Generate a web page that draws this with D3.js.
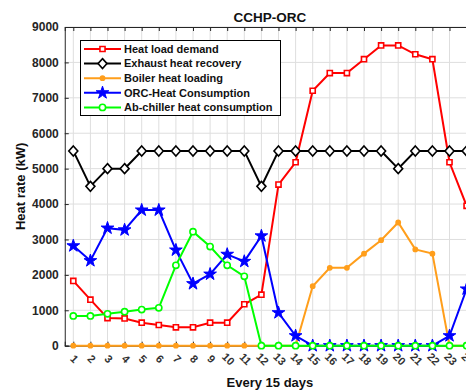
<!DOCTYPE html>
<html>
<head>
<meta charset="utf-8">
<script src="https://cdn.jsdelivr.net/npm/d3@7"></script>
<style>
  body { margin: 0; background: #fff; }
  svg { display: block; font-family: "Liberation Sans", Arial, sans-serif; font-weight: bold; }
</style>
</head>
<body>
<div class="container"></div>
<script>
// x categories (every 15 days)
var categories = ['1','2','3','4','5','6','7','8','9','10','11','12',
  '13','14','15','16','17','18','19','20','21','22','23','24'];

var yTicks = [0, 1000, 2000, 3000, 4000, 5000, 6000, 7000, 8000, 9000];

var heatLoad = [1830, 1300, 780, 770, 650, 585, 520, 520, 650, 650, 1170, 1440,
  4550, 5180, 7200, 7700, 7700, 8090, 8480, 8480, 8230, 8090, 5180, 3950];
var exhaust = [5500, 4500, 5000, 5000, 5500, 5500, 5500, 5500, 5500, 5500, 5500, 4500,
  5500, 5500, 5500, 5500, 5500, 5500, 5500, 5000, 5500, 5500, 5500, 5500];
var boiler = [0, 0, 0, 0, 0, 0, 0, 0, 0, 0, 0, 0,
  0, 0, 1680, 2200, 2200, 2600, 2980, 3480, 2720, 2600, 0, 0];
var orc = [2820, 2400, 3320, 3270, 3830, 3830, 2700, 1750, 2020, 2580, 2380, 3100,
  930, 280, 0, 0, 0, 0, 0, 0, 0, 0, 280, 1600];
var chiller = [840, 840, 900, 960, 1020, 1070, 2270, 3220, 2800, 2270, 1960, 0,
  0, 0, 0, 0, 0, 0, 0, 0, 0, 0, 0, 0];

var width = 466, height = 390;
var plotLeft = 64.75, step = 17.1, plotTop = 27, plotBottom = 345.7;
var plotRight = plotLeft + step * categories.length;

var series = [
  { name: 'Heat load demand', values: heatLoad, color: '#ff0000', marker: 'square' },
  { name: 'Exhaust heat recovery', values: exhaust, color: '#000000', marker: 'diamond' },
  { name: 'Boiler heat loading', values: boiler, color: '#ff9e1b', marker: 'dot' },
  { name: 'ORC-Heat Consumption', values: orc, color: '#0000ff', marker: 'star' },
  { name: 'Ab-chiller heat consumption', values: chiller, color: '#00ff00', marker: 'circle' }
];

var x = d3.scaleLinear().domain([0.5, categories.length + 0.5]).range([plotLeft, plotRight]);
var y = d3.scaleLinear().domain([0, 9000]).range([plotBottom, plotTop]);

var svg = d3.select('.container').append('svg')
  .attr('width', width)
  .attr('height', height);

// grid
var grid = svg.append('g').attr('class', 'grid');
grid.selectAll('.vgrid')
  .data(categories).enter()
  .append('line')
  .attr('x1', function(d, i) { return x(i + 1); })
  .attr('x2', function(d, i) { return x(i + 1); })
  .attr('y1', plotTop).attr('y2', plotBottom)
  .attr('stroke', '#dedede').attr('stroke-width', 1);
grid.selectAll('.hgrid')
  .data(yTicks).enter()
  .append('line')
  .attr('x1', plotLeft).attr('x2', plotRight)
  .attr('y1', function(d) { return y(d); })
  .attr('y2', function(d) { return y(d); })
  .attr('stroke', '#dedede').attr('stroke-width', 1);

// axes (box, inward ticks)
var axisColor = '#262626';
var yAxis = svg.append('g')
  .attr('transform', 'translate(' + plotLeft + ',0)')
  .call(d3.axisLeft(y).tickValues(yTicks).tickSize(-4).tickPadding(6).tickFormat(d3.format('d')));
yAxis.select('.domain').attr('stroke', axisColor);
yAxis.selectAll('line').attr('stroke', axisColor);
yAxis.selectAll('text')
  .attr('fill', axisColor)
  .style('font-size', '12px')
  .style('font-family', '"Liberation Sans", Arial, sans-serif')
  .style('font-weight', 'bold');

var xTop = svg.append('g')
  .attr('transform', 'translate(0,' + plotTop + ')')
  .call(d3.axisTop(x).tickValues(d3.range(1, categories.length + 1)).tickSize(-4).tickFormat(''));
xTop.select('.domain').attr('stroke', axisColor);
xTop.selectAll('line').attr('stroke', axisColor);

var xAxis = svg.append('g')
  .attr('transform', 'translate(0,' + plotBottom + ')')
  .call(d3.axisBottom(x).tickValues(d3.range(1, categories.length + 1)).tickSize(-4)
    .tickFormat(function(d) { return categories[d - 1]; }));
xAxis.select('.domain').attr('stroke', axisColor);
xAxis.selectAll('line').attr('stroke', axisColor);
xAxis.selectAll('text')
  .attr('fill', '#333')
  .attr('y', 0).attr('dy', null)
  .attr('text-anchor', 'middle')
  .attr('dominant-baseline', 'middle')
  .attr('transform', 'translate(0,14) rotate(45)')
  .style('font-size', '11px')
  .style('font-family', '"Liberation Sans", Arial, sans-serif')
  .style('font-weight', 'bold');

// markers
function markerPath(type) {
  if (type == 'square') return d3.symbol().type(d3.symbolSquare).size(26)();
  if (type == 'diamond') return 'M0,-5L4.5,0L0,5L-4.5,0Z';
  if (type == 'star') return d3.symbol().type(d3.symbolStar).size(50)();
  if (type == 'circle') return d3.symbol().type(d3.symbolCircle).size(30)();
  return d3.symbol().type(d3.symbolCircle).size(14)();
}

function drawMarker(g, s, cx, cy) {
  var filled = s.marker == 'star' || s.marker == 'dot';
  g.append('path')
    .attr('d', markerPath(s.marker))
    .attr('transform', 'translate(' + cx + ',' + cy + ')')
    .attr('fill', filled ? s.color : '#fff')
    .attr('stroke', s.color)
    .attr('stroke-width', s.marker == 'star' ? 1 : 1.6);
}

var line = d3.line()
  .x(function(d, i) { return x(i + 1); })
  .y(function(d) { return y(d); });

series.forEach(function(s) {
  var g = svg.append('g').attr('class', 'series');
  g.append('path')
    .datum(s.values)
    .attr('d', line)
    .attr('fill', 'none')
    .attr('stroke', s.color)
    .attr('stroke-width', 2);
  s.values.forEach(function(v, i) {
    drawMarker(g, s, x(i + 1), y(v));
  });
});

// legend
var legend = svg.append('g').attr('class', 'legend');
legend.append('rect')
  .attr('x', 80.5).attr('y', 40.5)
  .attr('width', 200).attr('height', 75)
  .attr('fill', '#fff').attr('stroke', '#000').attr('stroke-width', 1);
series.forEach(function(s, i) {
  var ly = 49 + i * 14.6;
  legend.append('line')
    .attr('x1', 84).attr('x2', 121)
    .attr('y1', ly).attr('y2', ly)
    .attr('stroke', s.color).attr('stroke-width', 2);
  drawMarker(legend, s, 102.5, ly);
  legend.append('text')
    .attr('x', 124).attr('y', ly)
    .attr('dy', '0.35em')
    .attr('fill', '#111')
    .style('font-size', '11px')
    .text(s.name);
});

// title and labels
svg.append('text')
  .attr('x', (plotLeft + plotRight) / 2).attr('y', 22)
  .attr('text-anchor', 'middle')
  .attr('fill', '#111')
  .style('font-size', '13.5px')
  .text('CCHP-ORC');

svg.append('text')
  .attr('x', (plotLeft + plotRight) / 2).attr('y', 387)
  .attr('text-anchor', 'middle')
  .attr('fill', '#111')
  .style('font-size', '13px')
  .text('Every 15 days');

svg.append('text')
  .attr('transform', 'translate(25,' + (plotTop + plotBottom) / 2 + ') rotate(-90)')
  .attr('text-anchor', 'middle')
  .attr('fill', '#111')
  .style('font-size', '13px')
  .text('Heat rate (kW)');
</script>
</body>
</html>
